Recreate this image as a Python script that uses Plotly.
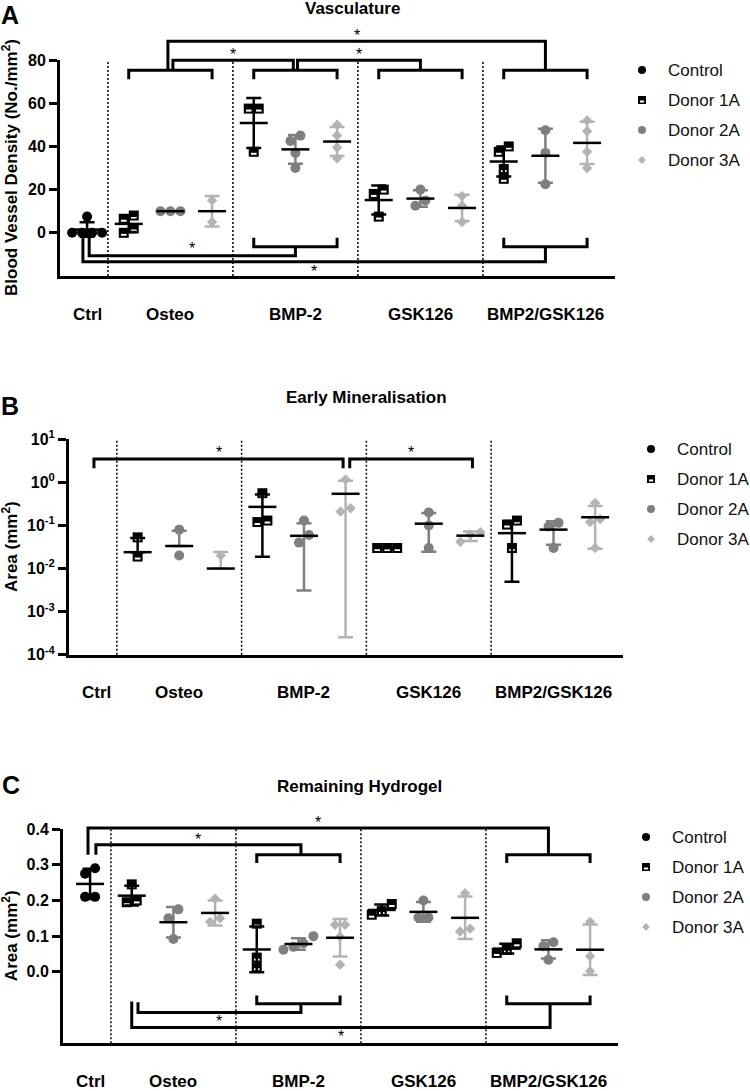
import numpy as np
import plotly.graph_objects as go

# ---------------- data ----------------
categories = ["Ctrl", "Osteo", "BMP-2", "GSK126", "BMP2/GSK126"]
series_names = ["Control", "Donor 1A", "Donor 2A", "Donor 3A"]

# A: Vasculature, blood vessel density (No./mm2); donor lists ordered Osteo, BMP-2, GSK126, BMP2/GSK126
vasc_control = [7.5, 0, 0, 0, 0]
vasc_donor1 = [[8, 6.5, 2, 0], [57.5, 57.5, 37.5], [20, 18, 7.5], [40, 37.5, 29.5, 25]]
vasc_donor2 = [[10, 10, 10], [42.5, 45, 37, 30], [20, 15, 12.5], [47.5, 37, 22.5]]
vasc_donor3 = [[15, 5], [50, 45, 39.5, 34.5], [17, 12.5, 5], [52, 47, 37.5, 30]]
vasc_ticks = [0, 20, 40, 60, 80]

# B: Early mineralisation, area (mm2) - zeros are not drawable on the log axis
mineral_control = [0, 0, 0]
mineral_donor1 = [[0.053, 0.019, 0], [0.56, 0.12, 0.13], [0.03, 0.03, 0.03], [0.13, 0.105, 0.03, 0]]
mineral_donor2 = [[0.08, 0.02, 0], [0.13, 0.04, 0.06, 0], [0.2, 0.1, 0.03], [0.115, 0.095, 0.03]]
mineral_donor3 = [[0.02, 0], [1.17, 0.21, 0.25], [0.07, 0.062, 0.042], [0.33, 0.14, 0.12, 0.03]]
mineral_ticks = [1e-4, 1e-3, 1e-2, 1e-1, 1, 10]
mineral_ticktext = ["10<sup>-4</sup>", "10<sup>-3</sup>", "10<sup>-2</sup>", "10<sup>-1</sup>",
                    "10<sup>0</sup>", "10<sup>1</sup>"]

# C: Remaining hydrogel, area (mm2)
hydrogel_control = [0.29, 0.275, 0.21, 0.21]
hydrogel_donor1 = [[0.245, 0.2, 0.195], [0.135, 0.04, 0.013], [0.19, 0.17, 0.16], [0.08, 0.062, 0.053]]
hydrogel_donor2 = [[0.175, 0.15, 0.092], [0.1, 0.08, 0.07, 0.062], [0.2, 0.152, 0.152], [0.083, 0.072, 0.034]]
hydrogel_donor3 = [[0.205, 0.14, 0.15], [0.132, 0.132, 0.098, 0.02], [0.22, 0.113, 0.121], [0.14, 0.044, 0.002]]
hydrogel_ticks = [0.0, 0.1, 0.2, 0.3, 0.4]

# ---------------- layout / style ----------------
W, H = 750, 1091
XR = (0.35, 13.67)
CTRL_X = 1.0
GROUP_X = [3.0, 6.0, 9.0, 12.0]
DONOR_OFFSET = [-1.0, 0.0, 1.0]
BOUNDARIES = [1.5, 4.5, 7.5, 10.5]
FONT = "Liberation Sans, Arial, sans-serif"
COLORS = {"Control": "#000000", "Donor 1A": "#000000", "Donor 2A": "#7f7f7f", "Donor 3A": "#b3b3b3"}
SYMBOLS = {"Control": "circle", "Donor 1A": "square", "Donor 2A": "circle", "Donor 3A": "diamond"}
SIZES = {"Control": 10, "Donor 1A": 10, "Donor 2A": 10, "Donor 3A": 8}
MARK_D = 10.0

panels = [
    dict(letter="A", title="Vasculature", ytitle="Blood Vessel Density (No./mm<sup>2</sup>)",
         xpx=(60, 615), ypx=(60, 276), yrange=(-20, 80), log=False,
         tickvals=vasc_ticks, ticktext=[str(t) for t in vasc_ticks],
         control=vasc_control, donors=[vasc_donor1, vasc_donor2, vasc_donor3],
         title_pos=(352, 8), letter_pos=(10, 15), legend_pos=(642, 70),
         group_brackets=[(3, 75.3, 71.1), (6, 75.3, 71.1), (9, 75.3, 71.1), (12, 75.3, 71.1),
                         (6, -6.5, -2.3), (12, -6.5, -2.3)],
         links=[(3.06, 5.95, 75.3, 75.3, 79.9, 83.6), (6.05, 9.0, 75.3, 75.3, 79.9, 83.6),
                (2.94, 12.0, 75.3, 75.3, 88.7, 92.4), (1.05, 6.0, -2.3, -6.5, -10.6, -6.5),
                (0.9, 12.0, -2.3, -6.5, -13.4, -17.1)]),
    dict(letter="B", title="Early Mineralisation", ytitle="Area (mm<sup>2</sup>)",
         xpx=(69, 623), ypx=(439.3, 654.7), yrange=(-4, 1), log=True,
         tickvals=mineral_ticks, ticktext=mineral_ticktext,
         control=mineral_control, donors=[mineral_donor1, mineral_donor2, mineral_donor3],
         title_pos=(366, 397), letter_pos=(10, 406), legend_pos=(651, 449),
         group_brackets=[],
         links=[(0.95, 6.94, 2.14, 2.14, 3.47, 5.6), (7.1, 10.05, 2.14, 2.14, 3.47, 5.6)]),
    dict(letter="C", title="Remaining Hydrogel", ytitle="Area (mm<sup>2</sup>)",
         xpx=(63, 618), ypx=(829, 1043.3), yrange=(-0.2, 0.4), log=False,
         tickvals=hydrogel_ticks, ticktext=["%.1f" % t for t in hydrogel_ticks],
         control=hydrogel_control, donors=[hydrogel_donor1, hydrogel_donor2, hydrogel_donor3],
         title_pos=(359, 786), letter_pos=(11, 785), legend_pos=(646, 837),
         group_brackets=[(6, 0.328, 0.305), (12, 0.328, 0.305), (6, -0.089, -0.066), (12, -0.089, -0.066)],
         links=[(0.95, 12.0, 0.328, 0.328, 0.403, 0.423), (1.14, 6.06, 0.328, 0.328, 0.356, 0.375),
                (2.15, 6.06, -0.085, -0.089, -0.114, -0.133), (2.0, 12.04, -0.083, -0.089, -0.156, -0.175)]),
]


def yunit(p, v):
    return np.log10(v) if p["log"] else v


def ypx_per_unit(p):
    return (p["ypx"][1] - p["ypx"][0]) / (p["yrange"][1] - p["yrange"][0])


def xpx_per_unit(p):
    return (p["xpx"][1] - p["xpx"][0]) / (XR[1] - XR[0])


def xdom(u):
    return (u - XR[0]) / (XR[1] - XR[0])


def ydom(p, v):
    return (yunit(p, v) - p["yrange"][0]) / (p["yrange"][1] - p["yrange"][0])


def shift_down(p, v, dpx):
    a = yunit(p, v) - dpx / ypx_per_unit(p)
    return 10 ** a if p["log"] else a


def spread(p, values):
    """horizontal pixel offsets so that overlapping points sit side by side"""
    vals = np.asarray(values, float)
    ypx = np.asarray(yunit(p, vals)) * ypx_per_unit(p)
    order = np.argsort(ypx, kind="stable")
    offs = np.zeros(len(vals))
    clusters, cur = [], [order[0]]
    for a, b in zip(order[:-1], order[1:]):
        if abs(ypx[b] - ypx[a]) < 0.9 * MARK_D:
            cur.append(b)
        else:
            clusters.append(cur)
            cur = [b]
    clusters.append(cur)
    for c in clusters:
        k = len(c)
        for i, idx in enumerate(c):
            offs[idx] = (i - (k - 1) / 2) * MARK_D
    return offs


fig = go.Figure()
shapes, annotations = [], []
layout_axes = {}

for i, p in enumerate(panels):
    s = "" if i == 0 else str(i + 1)
    xid, yid = "x" + s, "y" + s
    upx = 1.0 / xpx_per_unit(p)

    sets = [("Control", CTRL_X, p["control"])]
    for d, name in enumerate(series_names[1:]):
        for g, gx in enumerate(GROUP_X):
            sets.append((name, gx + DONOR_OFFSET[d], p["donors"][d][g]))

    # points
    pts = {n: ([], []) for n in series_names}
    for name, cx, vals in sets:
        vals = np.asarray(vals, float)
        keep = vals > 0 if p["log"] else np.ones(len(vals), bool)
        if keep.sum() == 0:
            continue
        v = vals[keep]
        offs = spread(p, v)
        pts[name][0].extend(list(cx + offs * upx))
        pts[name][1].extend(list(v))
    for name in series_names:
        xs, ys = pts[name]
        if not xs:
            continue
        fig.add_trace(go.Scatter(x=xs, y=ys, mode="markers", xaxis=xid, yaxis=yid, hoverinfo="skip",
                                 marker=dict(symbol=SYMBOLS[name], size=SIZES[name], color=COLORS[name],
                                             line=dict(width=0)), cliponaxis=False))
        if name == "Donor 1A":
            fig.add_trace(go.Scatter(x=xs, y=[shift_down(p, y, 2) for y in ys], mode="markers",
                                     xaxis=xid, yaxis=yid, hoverinfo="skip", cliponaxis=False,
                                     marker=dict(symbol="line-ew", size=4, color="white",
                                                 line=dict(color="white", width=2))))

    # mean +/- SD
    mx, my = [], []
    for name in series_names:
        ex, ey, eu, ed = [], [], [], []
        for n2, cx, vals in sets:
            if n2 != name:
                continue
            vals = np.asarray(vals, float)
            m = vals.mean()
            sd = vals.std(ddof=1)
            if p["log"] and m <= 0:
                continue
            ex.append(cx)
            ey.append(m)
            eu.append(sd)
            ed.append(sd if (not p["log"] or m - sd > 0) else 0.0)
            mx.append(cx)
            my.append(m)
        if ex:
            fig.add_trace(go.Scatter(x=ex, y=ey, mode="markers", xaxis=xid, yaxis=yid, hoverinfo="skip",
                                     marker=dict(size=1, color="rgba(0,0,0,0)"),
                                     error_y=dict(type="data", symmetric=False, array=eu, arrayminus=ed,
                                                  color=COLORS[name], thickness=2.5, width=7.5)))
    fig.add_trace(go.Scatter(x=mx, y=my, mode="markers", xaxis=xid, yaxis=yid, hoverinfo="skip",
                             cliponaxis=False,
                             marker=dict(symbol="line-ew", size=20, color="black",
                                         line=dict(color="black", width=2.5))))

    # dotted separators
    for b in BOUNDARIES:
        shapes.append(dict(type="line", xref=xid + " domain", yref=yid + " domain",
                           x0=xdom(b), x1=xdom(b), y0=0, y1=1,
                           line=dict(color="black", width=1.5, dash="2px,2px")))

    # significance brackets
    def addpath(pts_):
        path = "M " + " L ".join("%.5f,%.5f" % (xdom(u), ydom(p, v)) for u, v in pts_)
        shapes.append(dict(type="path", xref=xid + " domain", yref=yid + " domain", path=path,
                           line=dict(color="black", width=3)))

    for c, ybar, yleg in p["group_brackets"]:
        addpath([(c - 1, yleg), (c - 1, ybar), (c + 1, ybar), (c + 1, yleg)])
    for xl, xr, yl, yr, ybar, ystar in p["links"]:
        addpath([(xl, yl), (xl, ybar), (xr, ybar), (xr, yr)])
        annotations.append(dict(text="*", x=xdom((xl + xr) / 2), y=ydom(p, ystar),
                                xref=xid + " domain", yref=yid + " domain", showarrow=False,
                                xanchor="center", yanchor="middle", yshift=-2,
                                font=dict(family=FONT, size=16, color="black")))

    # category labels
    for cat, cx in zip(categories, [CTRL_X] + GROUP_X):
        annotations.append(dict(text=cat, x=cx, y=p["ypx"][1] + 38, xref=xid, yref="y4",
                                showarrow=False, font=dict(family=FONT, size=17, color="black", weight="bold")))

    # titles, letters, y titles
    annotations.append(dict(text=p["title"], x=p["title_pos"][0], y=p["title_pos"][1], xref="x4", yref="y4",
                            showarrow=False, font=dict(family=FONT, size=17, color="black", weight="bold")))
    annotations.append(dict(text=p["letter"], x=p["letter_pos"][0], y=p["letter_pos"][1], xref="x4", yref="y4",
                            showarrow=False, font=dict(family=FONT, size=25, color="black", weight="bold")))
    annotations.append(dict(text=p["ytitle"], x=10, y=(p["ypx"][0] + p["ypx"][1]) / 2, xref="x4", yref="y4",
                            textangle=-90, showarrow=False,
                            font=dict(family=FONT, size=17, color="black", weight="bold")))

    # legend (drawn on pixel overlay)
    lx, ly = p["legend_pos"]
    for k, name in enumerate(series_names):
        yy = ly + 30 * k
        fig.add_trace(go.Scatter(x=[lx], y=[yy], mode="markers", xaxis="x4", yaxis="y4", hoverinfo="skip",
                                 cliponaxis=False,
                                 marker=dict(symbol=SYMBOLS[name], size=SIZES[name] - 2, color=COLORS[name])))
        if name == "Donor 1A":
            fig.add_trace(go.Scatter(x=[lx], y=[yy + 1.5], mode="markers", xaxis="x4", yaxis="y4",
                                     hoverinfo="skip", cliponaxis=False,
                                     marker=dict(symbol="line-ew", size=3, color="white",
                                                 line=dict(color="white", width=2))))
        annotations.append(dict(text=name, x=lx + 24, y=yy, xref="x4", yref="y4", xanchor="left",
                                showarrow=False, font=dict(family=FONT, size=17, color="#111111")))

    layout_axes["xaxis" + s] = dict(domain=[p["xpx"][0] / W, p["xpx"][1] / W],
                                    range=list(XR), anchor=yid, automargin=False,
                                    showline=True, linewidth=3, linecolor="black", ticks="",
                                    showticklabels=False, showgrid=False, zeroline=False, fixedrange=True)
    layout_axes["yaxis" + s] = dict(domain=[1 - p["ypx"][1] / H, 1 - p["ypx"][0] / H],
                                    range=list(p["yrange"]), type="log" if p["log"] else "linear",
                                    anchor=xid, automargin=False, showline=True, linewidth=3, linecolor="black",
                                    ticks="outside", ticklen=8, tickwidth=3, tickcolor="black",
                                    tickvals=p["tickvals"], ticktext=p["ticktext"],
                                    tickfont=dict(family=FONT, size=16, color="black", weight="bold"),
                                    showgrid=False, zeroline=False, fixedrange=True)

# full-figure pixel overlay for legends and free text
layout_axes["xaxis4"] = dict(domain=[0, 1], range=[0, W], visible=False, anchor="y4",
                             automargin=False, fixedrange=True)
layout_axes["yaxis4"] = dict(domain=[0, 1], range=[H, 0], visible=False, anchor="x4",
                             automargin=False, fixedrange=True)

fig.update_layout(width=W, height=H, margin=dict(l=0, r=0, t=0, b=0, pad=0, autoexpand=False),
                  paper_bgcolor="white", plot_bgcolor="rgba(0,0,0,0)", showlegend=False,
                  font=dict(family=FONT), shapes=shapes, annotations=annotations, **layout_axes)

# let the figure start at the page corner (no default body margin)
fig.write_html("out.html", config={"displayModeBar": False},
               post_script="document.body.style.margin='0';")
